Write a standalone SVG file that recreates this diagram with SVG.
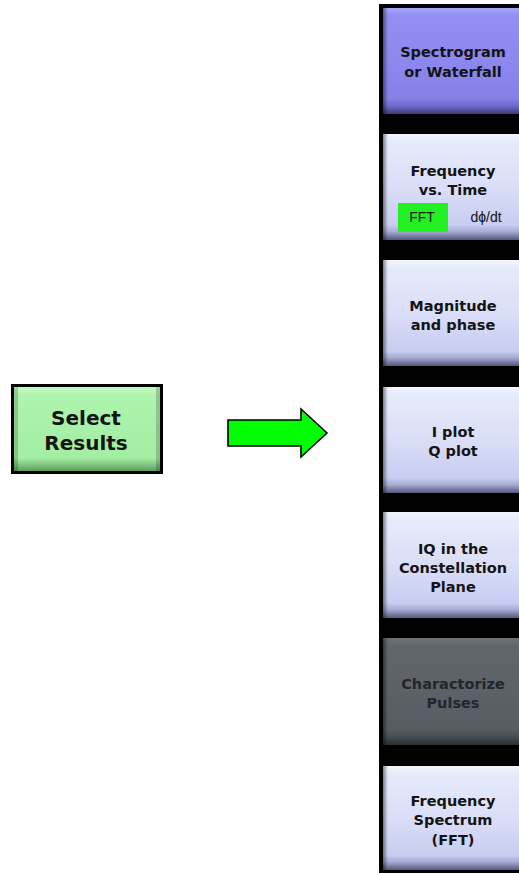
<svg xmlns="http://www.w3.org/2000/svg" width="519" height="873" viewBox="0 0 519 873">
  <defs>
    <linearGradient id="gLight" x1="0" y1="0" x2="0" y2="1">
      <stop offset="0" stop-color="#f2f5fe"/>
      <stop offset="0.08" stop-color="#e6ebfb"/>
      <stop offset="0.55" stop-color="#d8dcf7"/>
      <stop offset="0.86" stop-color="#c8ccf1"/>
      <stop offset="0.92" stop-color="#a6acd4"/>
      <stop offset="1" stop-color="#545a7c"/>
    </linearGradient>
    <linearGradient id="gPurple" x1="0" y1="0" x2="0" y2="1">
      <stop offset="0" stop-color="#a8a6fa"/>
      <stop offset="0.08" stop-color="#928ef2"/>
      <stop offset="0.6" stop-color="#8a86ee"/>
      <stop offset="0.86" stop-color="#8480e8"/>
      <stop offset="0.93" stop-color="#6a66c4"/>
      <stop offset="1" stop-color="#3c3a78"/>
    </linearGradient>
    <linearGradient id="gGray" x1="0" y1="0" x2="0" y2="1">
      <stop offset="0" stop-color="#6c7278"/>
      <stop offset="0.08" stop-color="#60666c"/>
      <stop offset="0.6" stop-color="#5a6066"/>
      <stop offset="0.86" stop-color="#565c62"/>
      <stop offset="0.93" stop-color="#454a50"/>
      <stop offset="1" stop-color="#2a2e32"/>
    </linearGradient>
    <linearGradient id="gEdge" x1="0" y1="0" x2="1" y2="0">
      <stop offset="0" stop-color="#000" stop-opacity="0.45"/>
      <stop offset="1" stop-color="#000" stop-opacity="0"/>
    </linearGradient>
    <linearGradient id="gGreen" x1="0" y1="0" x2="0" y2="1">
      <stop offset="0" stop-color="#c4fac4"/>
      <stop offset="0.1" stop-color="#aef4ae"/>
      <stop offset="0.85" stop-color="#a2eea2"/>
      <stop offset="1" stop-color="#5e9a5e"/>
    </linearGradient>
    <style>
      .lbl { font-family: "DejaVu Sans", "Liberation Sans", sans-serif; font-weight: bold; font-size: 14.5px; fill: #141414; text-anchor: middle; }
      .dark { fill: #22262a; }
      .small { font-family: "Liberation Sans", Arial, sans-serif; font-size: 14px; fill: #141414; text-anchor: middle; }
      .big { font-family: "DejaVu Sans", "Liberation Sans", sans-serif; font-weight: bold; font-size: 20px; fill: #141414; text-anchor: middle; }
      .edge { fill: url(#gEdge); }
    </style>
  </defs>

  <rect width="519" height="873" fill="#ffffff"/>

  <!-- Selector button on the left -->
  <g id="select-results">
    <rect x="11" y="384" width="152" height="90" fill="#000"/>
    <rect x="14" y="387" width="146" height="84" fill="url(#gGreen)"/>
    <rect x="14" y="387" width="4" height="84" fill="#000" opacity="0.18"/>
    <rect x="156" y="387" width="4" height="84" fill="#000" opacity="0.18"/>
    <text class="big" x="86" y="425">Select</text>
    <text class="big" x="86" y="450">Results</text>
  </g>

  <!-- Connector -->
  <g id="connectors">
    <path d="M228,420 L301,420 L301,409 L327,433 L301,457 L301,446 L228,446 Z" fill="#00ff00" stroke="#000" stroke-width="1.6" stroke-linejoin="miter"/>
  </g>

  <!-- Menu panel -->
  <g id="panel">
    <rect x="379" y="4" width="140" height="869" fill="#000"/>
  </g>

  <g id="btn-spectrogram">
    <rect x="383" y="8" width="136" height="106" fill="url(#gPurple)"/>
    <rect class="edge" x="383" y="8" width="5" height="106"/>
    <text class="lbl" x="453" y="57">Spectrogram</text>
    <text class="lbl" x="453" y="77">or Waterfall</text>
  </g>

  <g id="btn-freq-time">
    <rect x="383" y="134" width="136" height="106" fill="url(#gLight)"/>
    <rect class="edge" x="383" y="134" width="5" height="106"/>
    <text class="lbl" x="453" y="176">Frequency</text>
    <text class="lbl" x="453" y="195">vs. Time</text>
    <rect x="398" y="203" width="50" height="29" fill="#22f022"/>
    <text class="small" x="422" y="222">FFT</text>
    <text class="small" x="486" y="222">dϕ/dt</text>
  </g>

  <g id="btn-mag-phase">
    <rect x="383" y="260" width="136" height="106" fill="url(#gLight)"/>
    <rect class="edge" x="383" y="260" width="5" height="106"/>
    <text class="lbl" x="453" y="311">Magnitude</text>
    <text class="lbl" x="453" y="330">and phase</text>
  </g>

  <g id="btn-iq-plot">
    <rect x="383" y="387" width="136" height="106" fill="url(#gLight)"/>
    <rect class="edge" x="383" y="387" width="5" height="106"/>
    <text class="lbl" x="453" y="437">I plot</text>
    <text class="lbl" x="453" y="456">Q plot</text>
  </g>

  <g id="btn-constellation">
    <rect x="383" y="512" width="136" height="106" fill="url(#gLight)"/>
    <rect class="edge" x="383" y="512" width="5" height="106"/>
    <text class="lbl" x="453" y="554">IQ in the</text>
    <text class="lbl" x="453" y="573">Constellation</text>
    <text class="lbl" x="453" y="592">Plane</text>
  </g>

  <g id="btn-pulses">
    <rect x="383" y="638" width="136" height="107" fill="url(#gGray)"/>
    <rect class="edge" x="383" y="638" width="5" height="107"/>
    <text class="lbl dark" x="453" y="689">Charactorize</text>
    <text class="lbl dark" x="453" y="708">Pulses</text>
  </g>

  <g id="btn-spectrum">
    <rect x="383" y="766" width="136" height="104" fill="url(#gLight)"/>
    <rect class="edge" x="383" y="766" width="5" height="104"/>
    <text class="lbl" x="453" y="806">Frequency</text>
    <text class="lbl" x="453" y="825">Spectrum</text>
    <text class="lbl" x="453" y="845">(FFT)</text>
  </g>
</svg>
